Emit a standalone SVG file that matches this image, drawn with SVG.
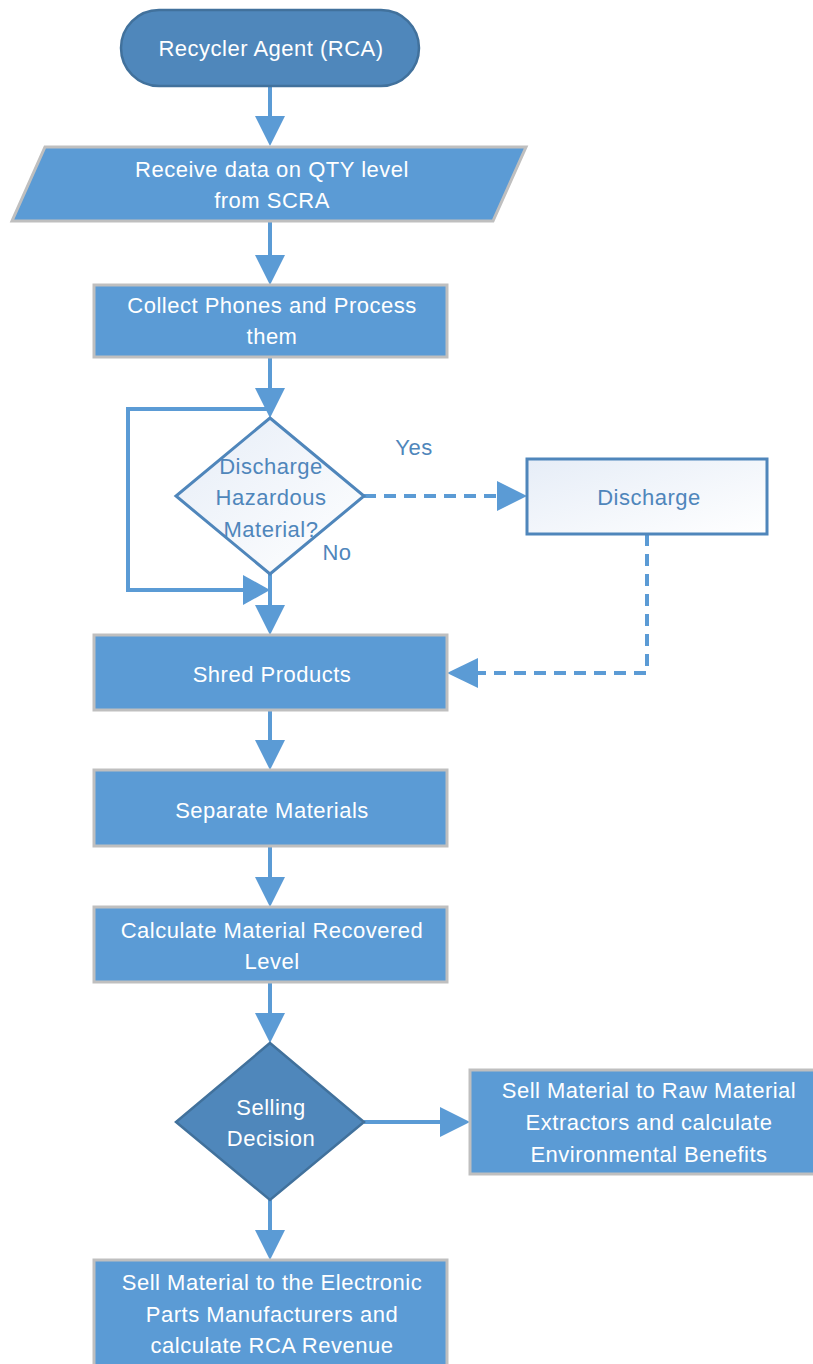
<svg xmlns="http://www.w3.org/2000/svg" width="813" height="1364" viewBox="0 0 813 1364">
<defs>
<style>
.box{fill:#5b9bd5;stroke:#bfbfbf;stroke-width:3}
.dk{fill:#4f87bb;stroke:#41719c;stroke-width:2.5}
.lt{fill:url(#g);stroke:#4f86bb;stroke-width:3}
.t{font-family:"Liberation Sans",Arial,sans-serif;font-size:22px;letter-spacing:0.5px;fill:#fff;text-anchor:middle}
.tb{font-family:"Liberation Sans",Arial,sans-serif;font-size:22px;letter-spacing:0.5px;fill:#4f86bb;text-anchor:middle}
.c{fill:none;stroke:#5b9bd5;stroke-width:4}
.d{stroke-dasharray:12 8}
.ah{fill:#5b9bd5}
</style>
<linearGradient id="g" x1="0" y1="0" x2="1" y2="1">
<stop offset="0" stop-color="#e6edf7"/>
<stop offset="1" stop-color="#ffffff"/>
</linearGradient>
</defs>
<g id="connectors">
<line class="c" x1="270" y1="86" x2="270" y2="118"/>
<polygon class="ah" points="255,116 285,116 270,146"/>
<line class="c" x1="270" y1="221" x2="270" y2="257"/>
<polygon class="ah" points="255,255 285,255 270,285"/>
<line class="c" x1="270" y1="357" x2="270" y2="390"/>
<polygon class="ah" points="255,388 285,388 270,418"/>
<polyline class="c" points="270,409 128,409 128,590 245,590"/>
<polygon class="ah" points="243,575 243,605 270,590"/>
<line class="c" x1="270" y1="574" x2="270" y2="608"/>
<polygon class="ah" points="255,605 285,605 270,635"/>
<line class="c d" x1="364" y1="496" x2="500" y2="496"/>
<polygon class="ah" points="497,481 497,511 527,496"/>
<polyline class="c d" points="647,534 647,673 478,673"/>
<polygon class="ah" points="478,658 478,688 447,673"/>
<line class="c" x1="270" y1="710" x2="270" y2="742"/>
<polygon class="ah" points="255,740 285,740 270,770"/>
<line class="c" x1="270" y1="846" x2="270" y2="879"/>
<polygon class="ah" points="255,877 285,877 270,907"/>
<line class="c" x1="270" y1="982" x2="270" y2="1015"/>
<polygon class="ah" points="255,1013 285,1013 270,1043"/>
<line class="c" x1="364" y1="1122" x2="442" y2="1122"/>
<polygon class="ah" points="440,1107 440,1137 470,1122"/>
<line class="c" x1="270" y1="1200" x2="270" y2="1232"/>
<polygon class="ah" points="255,1230 285,1230 270,1260"/>
</g>
<g id="start">
<rect class="dk" x="121" y="10" width="298" height="76" rx="38"/>
<text class="t" x="271" y="56">Recycler Agent (RCA)</text>
</g>
<g id="receive">
<polygon class="box" points="45,147 526,147 493,221 12,221"/>
<text class="t" x="272" y="177">Receive data on QTY level</text>
<text class="t" x="272" y="208">from SCRA</text>
</g>
<g id="collect">
<rect class="box" x="94" y="285" width="353" height="72"/>
<text class="t" x="272" y="313">Collect Phones and Process</text>
<text class="t" x="272" y="344">them</text>
</g>
<g id="hazard">
<polygon class="lt" points="270,418 364,496 270,574 176,496"/>
<text class="tb" x="271" y="474">Discharge</text>
<text class="tb" x="271" y="505">Hazardous</text>
<text class="tb" x="271" y="537">Material?</text>
</g>
<text class="tb" x="414" y="455">Yes</text>
<text class="tb" x="337" y="560">No</text>
<g id="discharge">
<rect class="lt" x="527" y="459" width="240" height="75"/>
<text class="tb" x="649" y="505">Discharge</text>
</g>
<g id="shred">
<rect class="box" x="94" y="635" width="353" height="75"/>
<text class="t" x="272" y="682">Shred Products</text>
</g>
<g id="separate">
<rect class="box" x="94" y="770" width="353" height="76"/>
<text class="t" x="272" y="818">Separate Materials</text>
</g>
<g id="calculate">
<rect class="box" x="94" y="907" width="353" height="75"/>
<text class="t" x="272" y="938">Calculate Material Recovered</text>
<text class="t" x="272" y="969">Level</text>
</g>
<g id="selling">
<polygon class="dk" points="270,1043 364,1122 270,1200 176,1122"/>
<text class="t" x="271" y="1115">Selling</text>
<text class="t" x="271" y="1146">Decision</text>
</g>
<g id="raw">
<rect class="box" x="470" y="1070" width="346" height="104"/>
<text class="t" x="649" y="1098">Sell Material to Raw Material</text>
<text class="t" x="649" y="1130">Extractors and calculate</text>
<text class="t" x="649" y="1162">Environmental Benefits</text>
</g>
<g id="electronic">
<rect class="box" x="94" y="1260" width="353" height="110"/>
<text class="t" x="272" y="1290">Sell Material to the Electronic</text>
<text class="t" x="272" y="1322">Parts Manufacturers and</text>
<text class="t" x="272" y="1353">calculate RCA Revenue</text>
</g>
</svg>
